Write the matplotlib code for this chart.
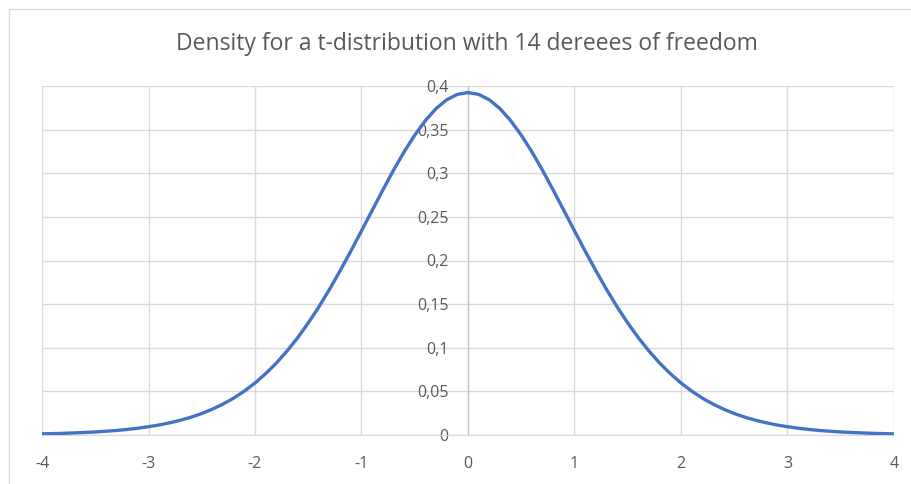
import matplotlib
matplotlib.use("Agg")
import matplotlib.pyplot as plt
from matplotlib.patches import Rectangle

# values (t-distribution, 14 df), x from 0 to 4
right_half = [0.3925, 0.3904, 0.3842, 0.3741, 0.3604, 0.3437, 0.3245, 0.3033,
              0.2807, 0.2574, 0.2340, 0.2108, 0.1884, 0.1670, 0.1469, 0.1284,
              0.1114, 0.0961, 0.0824, 0.0703, 0.0596, 0.0503, 0.0423, 0.0355,
              0.0296, 0.0246, 0.0204, 0.0169, 0.0140, 0.0115, 0.0095, 0.0078,
              0.0064, 0.0052, 0.0043, 0.0035, 0.0029, 0.0024, 0.0019, 0.0016,
              0.0013]
density = right_half[:0:-1] + right_half
x_vals = [i / 10 for i in range(-40, 41)]

x_ticks = [-4, -3, -2, -1, 0, 1, 2, 3, 4]
y_ticks = [0, 0.05, 0.1, 0.15, 0.2, 0.25, 0.3, 0.35, 0.4]
y_labels = ["0", "0,05", "0,1", "0,15", "0,2", "0,25", "0,3", "0,35", "0,4"]
title = "Density for a t-distribution with 14 dereees of freedom"

W, H = 912, 484
grey_text = "#595959"
grid_col = "#d9d9d9"

plt.rcParams["font.family"] = ["Open Sans", "DejaVu Sans"]

fig = plt.figure(figsize=(W / 100, H / 100), dpi=100)
fig.patches.append(Rectangle((9 / W, -0.1), 1.2, (H - 9) / H + 0.1,
                             transform=fig.transFigure, fill=False,
                             edgecolor=grid_col, linewidth=1))

ax = fig.add_axes([42 / W, (H - 435) / H, 852 / W, 349 / H])
ax.plot(x_vals, density, color="#4472c4", linewidth=2.4,
        solid_capstyle="butt", zorder=3)

ax.set_xlim(-4, 4)
ax.set_ylim(0, 0.4)
ax.set_xticks(x_ticks)
ax.set_xticklabels([str(v) for v in x_ticks])
ax.set_yticks(y_ticks)
ax.set_yticklabels(y_labels)
ax.grid(True, color=grid_col, linewidth=1)
ax.set_axisbelow(True)

for s in ["top", "right"]:
    ax.spines[s].set_visible(False)
ax.spines["left"].set_position(("data", 0))
ax.spines["left"].set_color("#bfbfbf")
ax.spines["bottom"].set_color(grid_col)
ax.tick_params(axis="both", length=0, labelsize=11.5, labelcolor=grey_text)
ax.tick_params(axis="y", pad=14)
ax.tick_params(axis="x", pad=15)

# chart frame is cropped on the right, so the title sits right of centre
fig.text(467 / W, 1 - 44 / H, title, ha="center", va="center",
         fontsize=16.5, color=grey_text)

fig.savefig("out.png", dpi=100)
